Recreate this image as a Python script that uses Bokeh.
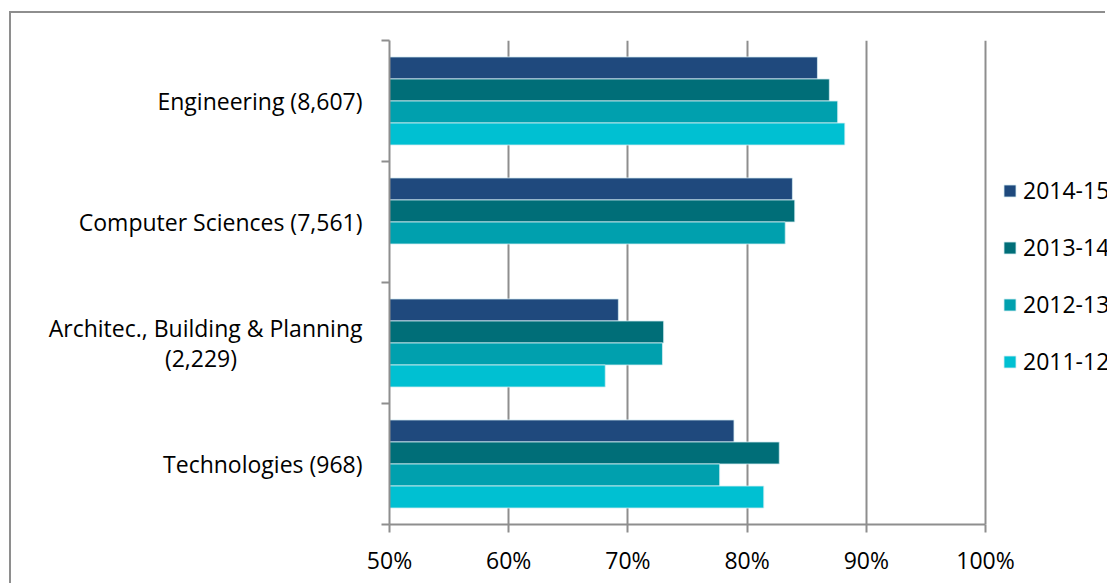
from bokeh.plotting import figure
from bokeh.models import (Range1d, FixedTicker, NumeralTickFormatter, Legend,
                          LegendItem, ColumnDataSource)
from bokeh.embed import file_html
from bokeh.resources import INLINE

# Share of students, by subject area (student counts in brackets) and year
categories = [
    "Engineering (8,607)",
    "Computer Sciences (7,561)",
    "Architec., Building & Planning\n(2,229)" + "\u00a0" * 21,
    "Technologies (968)",
]
years = ["2014-15", "2013-14", "2012-13", "2011-12"]
share_2014_15 = [0.859, 0.838, 0.692, 0.789]
share_2013_14 = [0.869, 0.840, 0.730, 0.827]
share_2012_13 = [0.876, 0.832, 0.729, 0.777]
share_2011_12 = [0.882, float("nan"), 0.681, 0.814]
series = [share_2014_15, share_2013_14, share_2012_13, share_2011_12]
colors = ["#1F497D", "#006E78", "#00A0AE", "#00C0D2"]
x_ticks = [0.5, 0.6, 0.7, 0.8, 0.9, 1.0]

FONT = "Open Sans"
GRID = "#8e8e8e"

# canvas and plot-area geometry (pixels)
W, H = 1096, 572
LEFT, TOP, PLOT_H = 378, 27, 484
PX_PER_UNIT = 596 / 0.5          # 50%..100% spans 596 px
x_end = 0.5 + (W - LEFT) / PX_PER_UNIT   # plot area runs on to the right edge

n = len(categories)
centers = [n - i - 0.5 for i in range(n)]
bar_h = 0.182

p = figure(width=W, height=H, output_backend="svg", toolbar_location=None,
           x_range=Range1d(0.5, x_end), y_range=Range1d(0, n),
           min_border_left=LEFT, min_border_right=0,
           min_border_top=TOP, min_border_bottom=H - TOP - PLOT_H)
# thin grey frame along the top and left of the chart area
p.styles = {"margin-left": "11px", "margin-top": "13px",
            "box-shadow": f"-2px -2px 0 0 {GRID}"}
p.outline_line_color = None
p.background_fill_color = "white"
p.border_fill_color = "white"

items = []
for j, (year, vals, col) in enumerate(zip(years, series, colors)):
    offset = (len(years) - 1) / 2 * bar_h - j * bar_h
    src = ColumnDataSource(dict(y=[c + offset for c in centers], right=vals))
    r = p.hbar(y="y", right="right", left=0.5, height=bar_h, source=src,
               fill_color=col, line_color="#d6eef2", line_width=1, line_alpha=0.8)
    items.append(LegendItem(label=year, renderers=[r]))

# x axis: percentages, line limited to 50%..100%
p.xaxis.ticker = FixedTicker(ticks=x_ticks)
p.xaxis.bounds = (0.5, 1.0)
p.xaxis.formatter = NumeralTickFormatter(format="0%")
p.xaxis.axis_line_color = GRID
p.xaxis.axis_line_width = 2
p.xaxis.major_tick_line_color = GRID
p.xaxis.major_tick_line_width = 2
p.xaxis.major_tick_out = 8
p.xaxis.major_tick_in = 0
p.xaxis.minor_tick_line_color = None
p.xaxis.major_label_standoff = 11
p.xaxis.major_label_text_font = FONT
p.xaxis.major_label_text_font_size = "23px"
p.xaxis.major_label_text_color = "black"

# y axis: category labels centred in each band, ticks on band edges
p.yaxis.ticker = FixedTicker(ticks=centers, minor_ticks=list(range(n + 1)))
p.yaxis.major_label_overrides = {c: lab for c, lab in zip(centers, categories)}
p.yaxis.axis_line_color = GRID
p.yaxis.axis_line_width = 2
p.yaxis.major_tick_line_color = None
p.yaxis.major_tick_out = 0
p.yaxis.major_tick_in = 0
p.yaxis.minor_tick_line_color = GRID
p.yaxis.minor_tick_line_width = 2
p.yaxis.minor_tick_out = 8
p.yaxis.minor_tick_in = 0
p.yaxis.major_label_standoff = 19
p.yaxis.major_label_text_font = FONT
p.yaxis.major_label_text_font_size = "23px"
p.yaxis.major_label_text_line_height = 0.93
p.yaxis.major_label_text_color = "black"

p.xgrid.ticker = FixedTicker(ticks=x_ticks)
p.xgrid.grid_line_color = GRID
p.xgrid.grid_line_width = 2
p.ygrid.grid_line_color = None

legend = Legend(items=items, location=(613, 147), orientation="vertical",
                glyph_width=15, glyph_height=15, label_height=32,
                spacing=25, padding=0, margin=0, label_standoff=6,
                border_line_color=None, background_fill_alpha=0,
                label_text_font=FONT, label_text_font_size="23px",
                label_text_color="black")
p.add_layout(legend, "center")

open("out.html", "w").write(file_html(p, INLINE))
